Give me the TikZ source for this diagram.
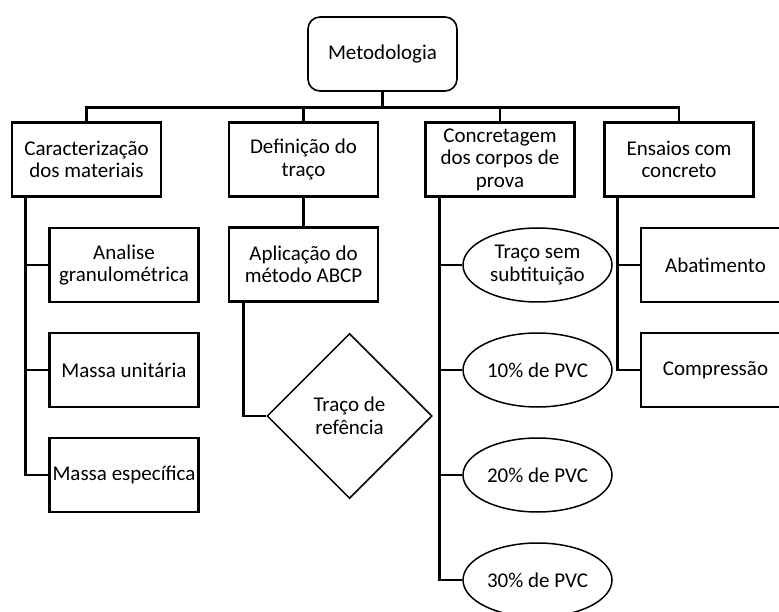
\documentclass[tikz,border=0pt]{standalone}
\usepackage{fontspec}
\setmainfont{Carlito}
\usetikzlibrary{shapes.geometric}
\begin{document}
\begin{tikzpicture}[x=1pt, y=-1pt, node distance=105pt,
  box/.style = {draw, line width=2.6pt, minimum width=149pt, minimum height=74pt, align=center, inner sep=1pt, font=\fontsize{21}{22.5}\selectfont},
  top/.style = {draw, line width=1.6pt, rounded corners=12pt, minimum width=149pt, minimum height=74pt, font=\fontsize{21}{22.5}\selectfont},
  oval/.style = {draw, ellipse, line width=1.5pt, minimum width=149pt, minimum height=74pt, align=center, inner sep=0pt, font=\fontsize{21}{22.5}\selectfont},
  rhomb/.style = {draw, diamond, line width=1.5pt, minimum size=165pt, inner sep=0pt, align=center, font=\fontsize{21}{22.5}\selectfont},
  conn/.style = {line width=2.6pt}]
\clip (0,0) rectangle (779,612);
\node[top] (m) at (382.5,54) {Metodologia};
\node[box] (c1) at (86.5,159.5) {Caracterização\\dos materiais};
\node[box] (c2) at (303.5,159.5) {Definição do\\traço};
\node[box] (c3) at (500,159.5) {Concretagem\\dos corpos de\\prova};
\node[box] (c4) at (679,159.5) {Ensaios com\\concreto};
\node[box] (a1) at (124,265) {Analise\\granulométrica};
\node[box] (a2) [below of=a1] {Massa unitária};
\node[box] (a3) [below of=a2] {Massa específica};
\node[box] (b1) [below of=c2] {Aplicação do\\método ABCP};
\node[rhomb] (b2) at (349.5,416) {Traço de\\refência};
\node[oval] (e1) at (537.5,265) {Traço sem\\subtituição};
\node[oval] (e2) [below of=e1] {10\% de PVC};
\node[oval] (e3) [below of=e2] {20\% de PVC};
\node[oval] (e4) [below of=e3] {30\% de PVC};
\node[box] (d1) at (715.5,265) {Abatimento};
\node[box] (d2) [below of=d1] {Compressão};
\draw[conn] (m.south) -- ++(0,16) -| (c1.north);
\draw[conn] (m.south) -- ++(0,16) -| (c2.north);
\draw[conn] (m.south) -- ++(0,16) -| (c3.north);
\draw[conn] (m.south) -- ++(0,16) -| (c4.north);
\draw[conn] ([xshift=15pt]c1.south west) |- (a1.west);
\draw[conn] ([xshift=15pt]c1.south west) |- (a2.west);
\draw[conn] ([xshift=15pt]c1.south west) |- (a3.west);
\draw[conn] (c2) -- (b1);
\draw[conn] ([xshift=16pt]b1.south west) |- (b2.west);
\draw[conn] ([xshift=15pt]c3.south west) |- (e1.west);
\draw[conn] ([xshift=15pt]c3.south west) |- (e2.west);
\draw[conn] ([xshift=15pt]c3.south west) |- (e3.west);
\draw[conn] ([xshift=15pt]c3.south west) |- (e4.west);
\draw[conn] ([xshift=14pt]c4.south west) |- (d1.west);
\draw[conn] ([xshift=14pt]c4.south west) |- (d2.west);
\end{tikzpicture}
\end{document}
